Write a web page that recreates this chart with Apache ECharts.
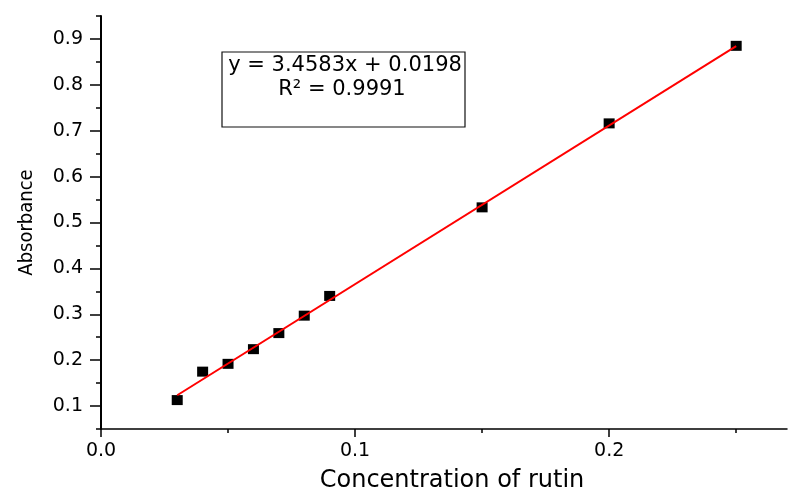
<!DOCTYPE html>
<html>
<head>
<meta charset="utf-8">
<script src="https://cdn.jsdelivr.net/npm/echarts@6/dist/echarts.min.js"></script>
<style>
html,body{margin:0;padding:0;background:#fff;}
#chart{width:789px;height:496px;}
</style>
</head>
<body>
<div id="chart"></div>
<script>
// Data
const concentration = [0.03, 0.04, 0.05, 0.06, 0.07, 0.08, 0.09, 0.15, 0.20, 0.25];
const absorbance = [0.113, 0.175, 0.192, 0.224, 0.259, 0.297, 0.340, 0.533, 0.716, 0.885];
// Linear fit line (y = 3.4583x + 0.0198) end points
const fitX = [0.03, 0.25];
const fitY = [0.1235, 0.8844];
// Tick values
const xMajorTicks = [0, 0.1, 0.2];
const xMinorTicks = [0.05, 0.15, 0.25];
const yMajorTicks = [0.1, 0.2, 0.3, 0.4, 0.5, 0.6, 0.7, 0.8, 0.9];
const yMinorTicks = [0.05, 0.15, 0.25, 0.35, 0.45, 0.55, 0.65, 0.75, 0.85, 0.95];
const equationText = 'y = 3.4583x + 0.0198';
const r2Text = 'R\u00B2 = 0.9991';
const xTitle = 'Concentration of rutin';
const yTitle = 'Absorbance';

const chart = echarts.init(document.getElementById('chart'), null, {renderer: 'canvas'});
const tickFont = 'DejaVu Sans';
const option = {
  backgroundColor: '#ffffff',
  animation: false,
  grid: {left: 101, right: 2, top: 16, bottom: 67, containLabel: false, outerBoundsMode: 'none'},
  xAxis: [
    {
      type: 'value', min: 0, max: 0.27,
      name: xTitle, nameLocation: 'middle', nameGap: 40,
      nameTextStyle: {fontFamily: tickFont, fontSize: 24, color: '#000', padding: [0, 0, 0, 16]},
      axisLine: {show: true, lineStyle: {color: '#000', width: 1.5}},
      axisTick: {show: true, inside: false, length: 8, customValues: xMajorTicks, lineStyle: {color: '#000', width: 1.5}},
      axisLabel: {show: true, margin: 13, customValues: xMajorTicks, fontFamily: tickFont, fontSize: 19, color: '#000',
        formatter: v => Number(v).toFixed(1)},
      splitLine: {show: false}
    },
    {
      type: 'value', min: 0, max: 0.27, position: 'bottom', offset: 0,
      axisLine: {show: false},
      axisTick: {show: true, inside: false, length: 4, customValues: xMinorTicks, lineStyle: {color: '#000', width: 1.5}},
      axisLabel: {show: false},
      splitLine: {show: false}
    }
  ],
  yAxis: [
    {
      type: 'value', min: 0.05, max: 0.95,
      name: yTitle, nameLocation: 'middle', nameGap: 64, nameRotate: 90,
      nameTextStyle: {fontFamily: "'DejaVu Sans Condensed', 'Liberation Sans Narrow', 'Liberation Sans'", fontSize: 20, color: '#000'},
      axisLine: {show: true, lineStyle: {color: '#000', width: 2}},
      axisTick: {show: true, inside: false, length: 11, customValues: yMajorTicks, lineStyle: {color: '#000', width: 1.5}},
      axisLabel: {show: true, margin: 18, customValues: yMajorTicks, fontFamily: tickFont, fontSize: 19, color: '#000',
        formatter: v => Number(v).toFixed(1)},
      splitLine: {show: false}
    },
    {
      type: 'value', min: 0.05, max: 0.95, position: 'left', offset: 0,
      axisLine: {show: false},
      axisTick: {show: true, inside: false, length: 5, customValues: yMinorTicks, lineStyle: {color: '#000', width: 1.5}},
      axisLabel: {show: false},
      splitLine: {show: false}
    }
  ],
  graphic: [
    {
      type: 'rect', z: 10,
      shape: {x: 222, y: 52, width: 243, height: 75},
      style: {fill: '#fff', stroke: '#111', lineWidth: 1.2}
    },
    {
      type: 'text', z: 11, x: 345, y: 66,
      style: {text: equationText, fontFamily: tickFont, fontSize: 21, fill: '#000', align: 'center', verticalAlign: 'middle'}
    },
    {
      type: 'text', z: 11, x: 342, y: 90,
      style: {text: r2Text, fontFamily: tickFont, fontSize: 21, fill: '#000', align: 'center', verticalAlign: 'middle'}
    }
  ],
  series: [
    {
      type: 'scatter', xAxisIndex: 0, yAxisIndex: 0, z: 2,
      symbol: 'rect', symbolSize: [11, 10],
      itemStyle: {color: '#000', opacity: 1},
      data: concentration.map((x, i) => [x, absorbance[i]])
    },
    {
      type: 'line', xAxisIndex: 0, yAxisIndex: 0, z: 3,
      showSymbol: false, symbol: 'none',
      lineStyle: {color: '#ff0000', width: 2},
      data: fitX.map((x, i) => [x, fitY[i]])
    }
  ]
};
chart.setOption(option);
</script>
</body>
</html>
